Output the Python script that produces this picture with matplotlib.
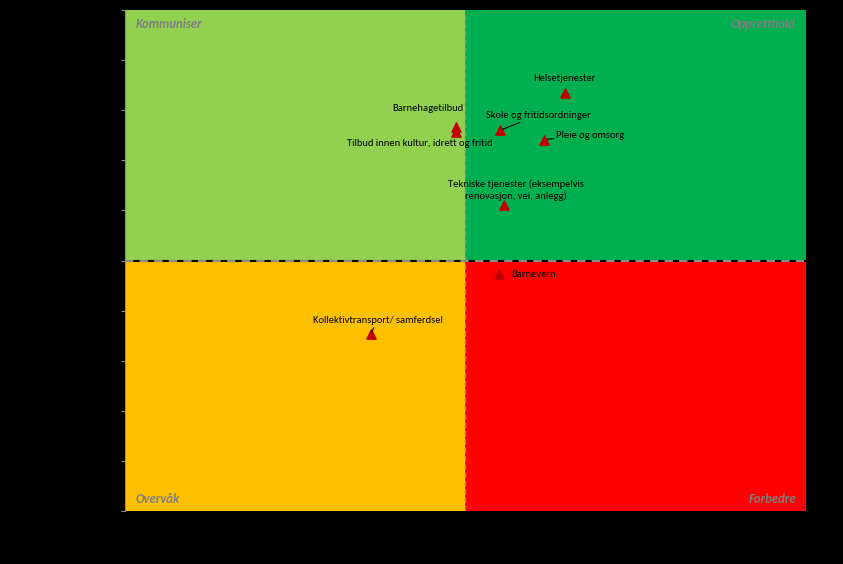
import matplotlib
matplotlib.use('Agg')
import matplotlib.pyplot as plt

plt.rcParams['font.family'] = ['Carlito', 'DejaVu Sans']

# tjenester: x = tilfredshet, y = viktighet (sentrert rundt 0)
tjenester = ['Helsetjenester', 'Barnehagetilbud', 'Tilbud innen kultur, idrett og fritid',
             'Skole og fritidsordninger', 'Pleie og omsorg',
             'Tekniske tjenester (eksempelvis\nrenovasjon, vei, anlegg)',
             'Barnevern', 'Kollektivtransport/ samferdsel']
x_verdi = [0.291, -0.029, -0.029, 0.100, 0.232, 0.112, 0.097, -0.279]
y_verdi = [0.667, 0.531, 0.511, 0.519, 0.483, 0.220, -0.052, -0.295]

# etikettplassering (forskyvning i punkter) og om det skal være strek til punktet
etikett_dx = [0, -20, -26, 28, 33, 9, 25, 5]
etikett_dy = [11, 14, -8, 11, 3, 11, -1, 10]
med_linje = [False, False, False, True, True, False, False, True]

kvadranter = ['Kommuniser', 'Oppretthold', 'Overvåk', 'Forbedre']
farger = ['#92D050', '#00B050', '#FFC000', '#FF0000']

fig = plt.figure(figsize=(8.43, 5.64), dpi=100, facecolor='black')
ax = fig.add_axes([125 / 843, 1 - 511 / 564, 681 / 843, 501 / 564])
ax.set_xlim(-1, 1)
ax.set_ylim(-1, 1)

# kvadrantene
ax.axvspan(-1, 0, ymin=0.5, ymax=1, color=farger[0], lw=0)
ax.axvspan(0, 1, ymin=0.5, ymax=1, color=farger[1], lw=0)
ax.axvspan(-1, 0, ymin=0, ymax=0.5, color=farger[2], lw=0)
ax.axvspan(0, 1, ymin=0, ymax=0.5, color=farger[3], lw=0)

# midtlinjer
ax.axhline(0, color='black', lw=1.5)
ax.axhline(0, color='#8C8C8C', lw=1.5, linestyle=(0, (4, 3)))
ax.axvline(0, color='#8C8C8C', lw=1, linestyle=(0, (4, 2)))

ax.scatter(x_verdi, y_verdi, marker='^', s=45, color='#C00000', zorder=3)

for i, navn in enumerate(tjenester):
    pil = None
    if med_linje[i]:
        pil = dict(arrowstyle='-', color='black', lw=0.8, shrinkA=0, shrinkB=2)
    ax.annotate(navn, (x_verdi[i], y_verdi[i]), xytext=(etikett_dx[i], etikett_dy[i]),
                textcoords='offset points', ha='center', va='center', fontsize=7.6,
                linespacing=1.3, arrowprops=pil)

kw = dict(fontsize=9.2, color='#7F7F7F', fontweight='bold', fontstyle='italic',
          transform=ax.transAxes)
ax.text(0.015, 0.985, kvadranter[0], ha='left', va='top', **kw)
ax.text(0.985, 0.985, kvadranter[1], ha='right', va='top', **kw)
ax.text(0.015, 0.012, kvadranter[2], ha='left', va='bottom', **kw)
ax.text(0.985, 0.012, kvadranter[3], ha='right', va='bottom', **kw)

for side in ['top', 'right', 'bottom']:
    ax.spines[side].set_visible(False)
ax.spines['left'].set_color('#8C8C8C')
ax.set_yticks([-1 + 0.2 * k for k in range(11)])
ax.set_xticks([])
ax.tick_params(axis='y', colors='#8C8C8C', length=3, labelcolor='black', labelsize=8)

fig.savefig('out.png', dpi=100, facecolor='black')
